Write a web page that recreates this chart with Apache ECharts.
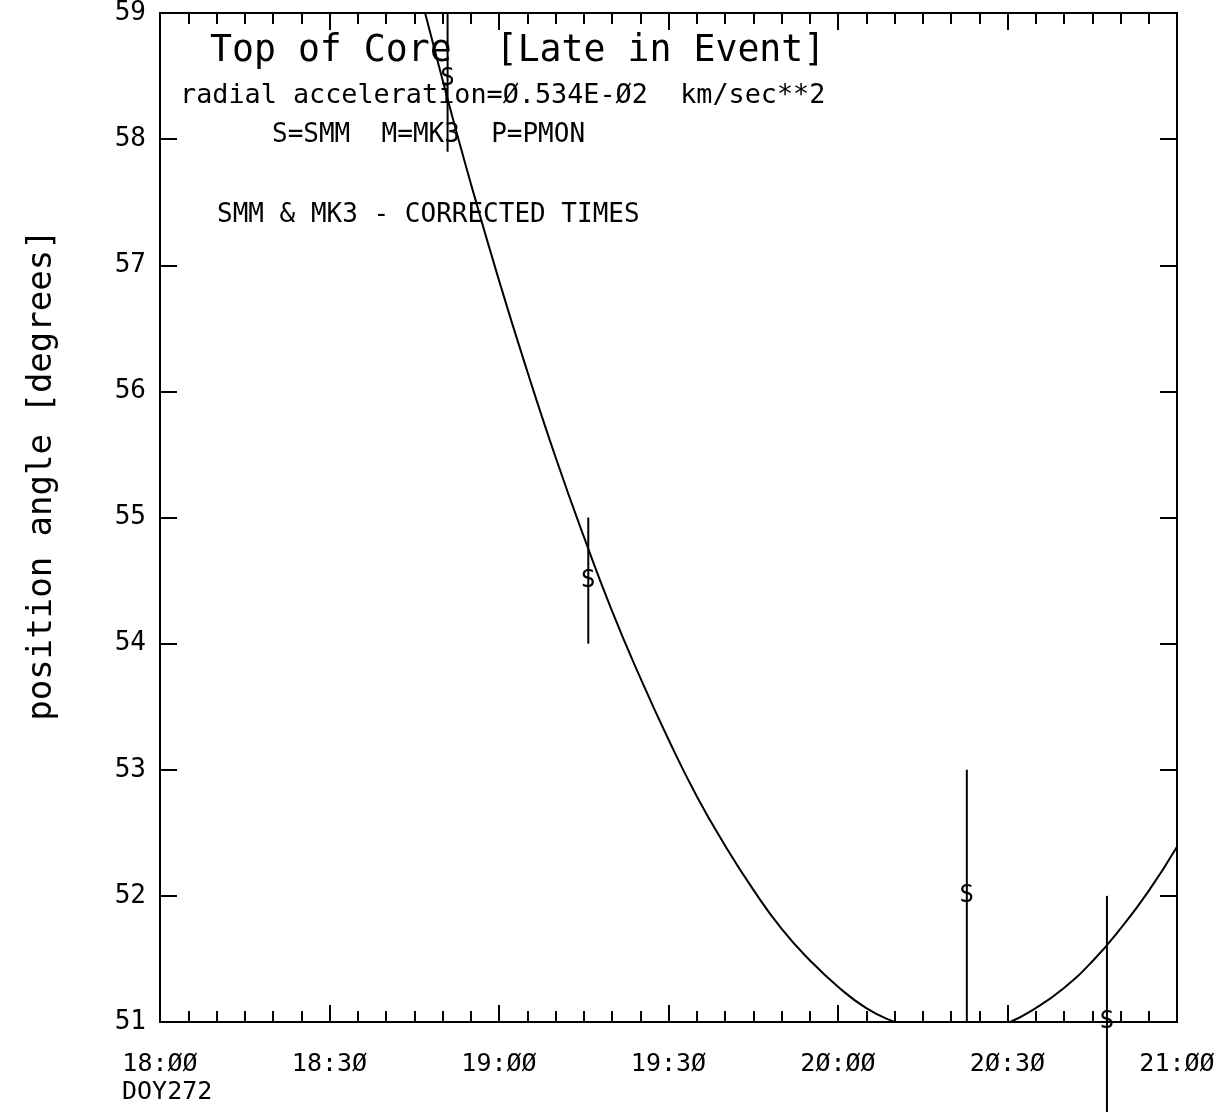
<!DOCTYPE html>
<html>
<head>
<meta charset="utf-8">
<script src="https://cdn.jsdelivr.net/npm/echarts@6/dist/echarts.min.js"></script>
<style>
html,body{margin:0;padding:0;background:#fff;}
#chart{width:1229px;height:1112px;}
</style>
</head>
<body>
<div id="chart"></div>
<script>
// x values are minutes after 18:00 (DOY272)
const xTickLabels = ['18:ØØ','18:3Ø','19:ØØ','19:3Ø','2Ø:ØØ','2Ø:3Ø','21:ØØ'];
const yTickValues = [51,52,53,54,55,56,57,58,59];

// fitted curve (part below 51 is hidden by the axis)
const curveTimes  = [45, 50, 55, 60, 65, 70, 75, 80, 85, 90, 95, 100, 105, 110, 115, 120, 125, 130, 135, 140, 145, 150, 155, 160, 165, 170, 175, 180];
const curveValues = [59.33, 58.47, 57.65, 56.88, 56.16, 55.48, 54.85, 54.26, 53.73, 53.24, 52.79, 52.40, 52.05, 51.74, 51.49, 51.28, 51.11, 51.00, 50.92, 50.90, 50.92, 50.99, 51.11, 51.27, 51.48, 51.74, 52.04, 52.39];

// SMM observations (S markers) with error bars
const smmTimes  = [50.9, 75.8, 142.8, 167.6];
const smmValues = [58.48, 54.5, 52.0, 51.0];
const smmLow    = [57.9, 54.0, 51.0, 50.0];
const smmHigh   = [59.0, 55.0, 53.0, 52.0];

const mono = '"DejaVu Sans Mono", "Liberation Mono", monospace';

const chart = echarts.init(document.getElementById('chart'));

const errData = smmTimes.map((t, i) => [t, smmValues[i], smmLow[i], smmHigh[i]]);
const curveData = curveTimes.map((t, i) => [t, curveValues[i]]);

const xCommon = {
  type: 'value', min: 0, max: 180, interval: 30,
  axisLine: {show: true, onZero: false, lineStyle: {color: '#000', width: 2}},
  splitLine: {show: false},
  minorTick: {show: true, splitNumber: 6, length: 11, lineStyle: {color: '#000', width: 2}},
  axisTick: {show: true, inside: true, length: 17, lineStyle: {color: '#000', width: 2}}
};
const yCommon = {
  type: 'value', min: 51, max: 59, interval: 1,
  axisLine: {show: true, onZero: false, lineStyle: {color: '#000', width: 2}},
  splitLine: {show: false},
  axisTick: {show: true, inside: true, length: 17, lineStyle: {color: '#000', width: 2}}
};

chart.setOption({
  backgroundColor: '#fff',
  animation: false,
  grid: {left: 160, top: 9, right: 52, bottom: 90, containLabel: false},
  xAxis: [
    Object.assign({}, xCommon, {
      position: 'bottom',
      axisLabel: {
        show: true, margin: 30, color: '#000', fontFamily: mono, fontSize: 25,
        formatter: v => xTickLabels[Math.round(v / 30)]
      }
    }),
    Object.assign({}, xCommon, {position: 'top', axisLabel: {show: false}})
  ],
  yAxis: [
    Object.assign({}, yCommon, {
      position: 'left',
      axisLabel: {show: true, margin: 14, color: '#000', fontFamily: mono, fontSize: 26,
        formatter: v => yTickValues.indexOf(v) >= 0 ? String(v) : ''}
    }),
    Object.assign({}, yCommon, {position: 'right', axisLabel: {show: false}})
  ],
  graphic: [
    {type: 'text', left: 210, top: 33, style: {text: 'Top of Core  [Late in Event]', font: '36.5px ' + mono, fill: '#000'}},
    {type: 'text', left: 180, top: 83, style: {text: 'radial acceleration=Ø.534E-Ø2  km/sec**2', font: '26.8px ' + mono, fill: '#000'}},
    {type: 'text', left: 272, top: 122, style: {text: 'S=SMM  M=MK3  P=PMON', font: '26px ' + mono, fill: '#000'}},
    {type: 'text', left: 217, top: 202, style: {text: 'SMM & MK3 - CORRECTED TIMES', font: '26px ' + mono, fill: '#000'}},
    {type: 'text', left: 122, top: 1080, style: {text: 'DOY272', font: '25px ' + mono, fill: '#000'}},
    {type: 'text', x: 42, y: 475, rotation: Math.PI / 2,
      style: {text: 'position angle [degrees]', font: '34px ' + mono, fill: '#000', align: 'center', verticalAlign: 'middle'}}
  ],
  series: [
    {
      type: 'line', xAxisIndex: 0, yAxisIndex: 0,
      data: curveData, showSymbol: false, symbol: 'none', smooth: 0.5, clip: true,
      lineStyle: {color: '#000', width: 2}
    },
    {
      type: 'custom', xAxisIndex: 0, yAxisIndex: 0, clip: false,
      data: errData,
      renderItem: function (params, api) {
        const t = api.value(0);
        const c = api.coord([t, api.value(1)]);
        const lo = api.coord([t, api.value(2)]);
        const hi = api.coord([t, api.value(3)]);
        return {
          type: 'group',
          children: [
            {type: 'line', shape: {x1: lo[0], y1: lo[1], x2: hi[0], y2: hi[1]}, style: {stroke: '#000', lineWidth: 2}},
            {type: 'text', x: c[0], y: c[1], style: {text: 'S', font: '24px ' + mono, fill: '#000', align: 'center', verticalAlign: 'middle'}}
          ]
        };
      }
    }
  ]
});
</script>
</body>
</html>
